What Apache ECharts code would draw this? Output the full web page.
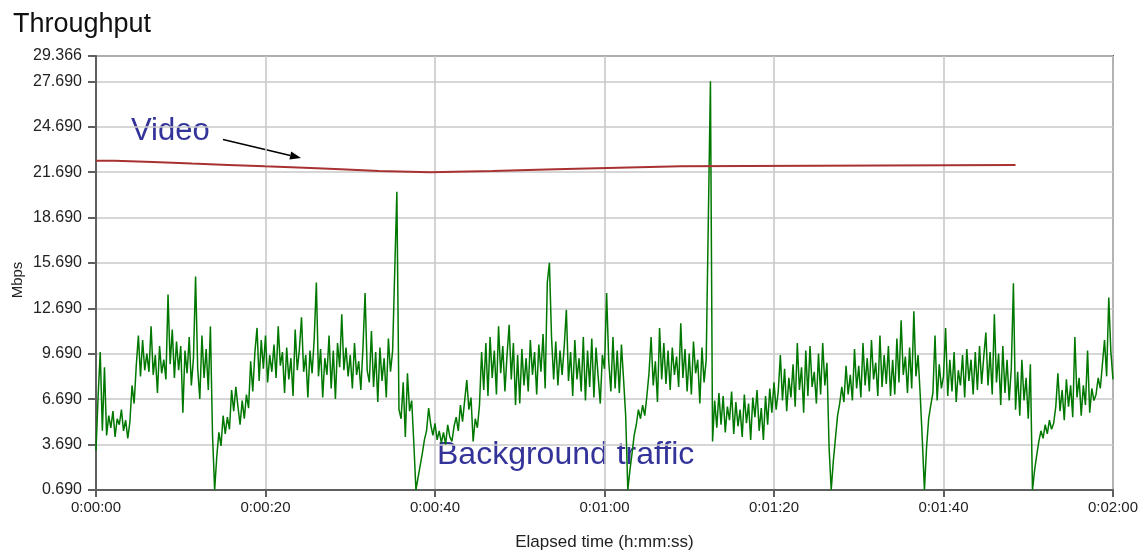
<!DOCTYPE html>
<html>
<head>
<meta charset="utf-8">
<script src="https://cdn.jsdelivr.net/npm/echarts@6/dist/echarts.min.js"></script>
<style>
html,body{margin:0;padding:0;background:#fff;}
#chart{width:1146px;height:552px;}
</style>
</head>
<body>
<div id="chart"></div>
<script>
// ---- data ----
const yTicks = [0.69, 3.69, 6.69, 9.69, 12.69, 15.69, 18.69, 21.69, 24.69, 27.69, 29.366];
const xTickSeconds = [0, 20, 40, 60, 80, 100, 120];

// Video throughput (Mbps): step start times (s) and levels
const videoTimes  = [0, 2.2, 6.7, 11.3, 15.6, 19.9, 24.6, 28.9, 33.4, 39.4, 46.8, 54.2, 61.6, 69, 108.5];
const videoValues = [22.45, 22.37, 22.26, 22.17, 22.08, 21.99, 21.89, 21.77, 21.69, 21.77, 21.89, 21.99, 22.08, 22.17, 22.17];

// Background traffic (Mbps), one sample every 0.25 s from 0:00:00 to 0:02:00
const bgStep = 0.25;
const bgValues = [
  3.3, 6.9, 9.8, 4.6,   8.8, 4.3, 5.6, 4.8,   5.9, 4.2, 5.4, 5.0,   6.0, 4.6, 5.3, 4.1,   // 0-3
  5.2, 7.6, 6.4, 8.9,   10.9, 8.2, 10.6, 8.6, 9.7, 8.5, 11.5, 8.3, 9.6, 7.1, 10.2, 8.4, // 4-7
  9.3, 8.0, 13.6, 9.0,  11.3, 8.1, 10.5, 8.6, 10.2, 5.8, 9.9, 8.4, 10.8, 7.6, 9.4, 14.8, // 8-11
  8.7, 6.7, 10.9, 8.1,  10.0, 7.3, 11.5, 4.3, 0.69, 2.9, 4.5, 3.6, 5.6, 4.4, 5.5, 4.7,   // 12-15
  7.3, 5.9, 7.5, 6.2,   5.0, 6.6, 5.4, 7.0,   6.1, 9.2, 7.2, 9.8,   11.4, 7.9, 10.6, 8.7, // 16-19
  10.9, 7.8, 9.6, 8.5,  10.3, 8.1, 11.5, 8.9, 9.8, 7.1, 10.1, 8.0, 9.4, 6.9, 11.3, 8.6,  // 20-23
  10.0, 12.1, 8.5, 9.6, 6.8, 9.9, 8.4, 10.7,  14.4, 8.2, 10.0, 6.8, 9.4, 8.3, 10.9, 7.4,  // 24-27
  9.9, 6.7, 10.4, 8.8,  12.3, 8.6, 10.1, 8.2, 9.6, 7.4, 10.4, 8.3,  9.2, 7.3, 10.1, 13.7, // 28-31
  8.6, 7.8, 11.2, 7.5,  9.8, 6.5, 10.1, 7.9,  9.4, 6.8, 10.7, 8.5,  9.9, 15.2, 20.4, 6.0, // 32-35
  5.4, 7.8, 4.2, 8.4,   5.9, 6.6, 3.8, 0.69,  1.5, 2.3, 3.1, 4.0,   4.6, 6.1, 5.0, 4.3,   // 36-39
  5.1, 4.0, 4.6, 3.8,   4.5, 3.7, 5.0, 4.2,   3.9, 4.9, 5.5, 4.6,   6.3, 5.2, 6.6, 7.95,  // 40-43
  6.0, 6.8, 3.9, 5.4,   4.8, 6.3, 9.8, 7.3,   10.4, 6.9, 10.8, 8.1, 9.9, 7.0, 11.5, 8.4,  // 44-47
  10.2, 7.2, 9.6, 11.6, 8.0, 10.4, 6.3, 9.6,  6.4, 10.0, 7.6, 9.4,  7.2, 10.6, 8.3, 9.8,  // 48-51
  7.0, 10.3, 8.5, 11.0, 7.4, 14.4, 15.7, 10.8, 8.0, 10.5, 7.6, 9.9, 8.3, 10.2, 12.6, 7.9, // 52-55
  9.8, 6.9, 10.6, 8.0,  9.4, 7.2, 10.8, 6.6,  9.9, 7.5, 10.7, 6.8,  10.1, 8.2, 6.4, 9.6,  // 56-59
  8.7, 13.7, 9.2, 7.2,  10.8, 7.4, 9.9, 7.1,  10.3, 8.0, 5.6, 0.69, 2.0, 3.1, 4.3, 5.0,   // 60-63
  6.0, 5.4, 6.3, 5.6,   6.9, 8.4, 10.8, 7.6,  9.2, 6.5, 11.4, 8.0,  10.4, 7.7, 9.9, 7.3,  // 64-67
  10.1, 8.3, 9.5, 7.5,  11.7, 8.1, 10.0, 7.2, 9.7, 7.0, 10.5, 8.4,  9.3, 6.4, 10.1, 7.8,  // 68-71
  9.3, 18.5, 27.69, 3.9, 6.6, 4.8, 7.1, 5.0,  6.9, 4.5, 6.2, 5.3,   7.2, 4.4, 6.5, 4.9,   // 72-75
  6.0, 4.2, 7.0, 5.1,   6.4, 4.0, 6.8, 5.5,   7.3, 4.6, 6.1, 4.0,   6.9, 5.0, 7.4, 5.8,   // 76-79
  7.8, 6.0, 7.2, 9.6,   6.6, 8.7, 5.9, 8.1,   6.8, 9.0, 6.2, 10.4,  7.3, 8.8, 5.8, 9.9,   // 80-83
  6.9, 10.2, 7.5, 8.5,  6.4, 9.7, 7.0, 10.4,  7.6, 9.1, 3.5, 0.69,  2.6, 4.1, 5.6, 6.4,   // 84-87
  7.5, 6.5, 8.9, 7.0,   8.3, 6.6, 10.0, 7.4,  8.9, 6.8, 10.4, 7.6,  9.4, 7.2, 10.6, 8.0,  // 88-91
  9.1, 6.9, 10.9, 7.5,  9.6, 7.7, 10.2, 6.9,  9.3, 7.0, 10.7, 7.8,  11.9, 8.3, 9.5, 7.1,  // 92-95
  10.1, 7.4, 12.5, 8.2, 9.6, 7.0, 4.0, 0.69,  3.5, 5.4, 6.3, 7.1,   10.9, 6.6, 9.0, 7.4,  // 96-99
  8.2, 11.4, 6.9, 9.3,  7.2, 9.8, 6.5, 8.6,   7.6, 9.6, 6.8, 10.0,  7.9, 9.3, 7.0, 9.8,   // 100-103
  7.3, 10.2, 7.7, 9.5,  11.1, 7.6, 9.8, 7.0,  12.3, 7.8, 9.7, 6.3,  10.2, 7.1, 9.3, 6.6,  // 104-107
  8.7, 14.35, 6.0, 8.5, 5.6, 9.3, 6.6, 8.1,   5.4, 9.0, 0.69, 2.0,  3.0, 3.9, 4.6, 4.1,   // 108-111
  5.0, 4.4, 5.3, 4.7,   5.1, 6.2, 8.4, 5.9,   7.3, 5.3, 8.0, 6.2,   7.6, 5.5, 10.8, 6.8,  // 112-115
  8.1, 5.6, 7.6, 6.3,   9.9, 5.8, 7.4, 6.6,   7.0, 8.1, 7.4, 9.0,   10.6, 8.2, 13.4, 9.8, // 116-119
  8.0                                                                                       // 120
];

// ---- build ----
const FONT = "'Liberation Sans', Arial, sans-serif";
const bgData = bgValues.map((v, i) => [i * bgStep, v]);
const videoData = videoTimes.map((t, i) => [t, videoValues[i]]);

function fmtTime(s) {
  s = Math.round(s);
  const h = Math.floor(s / 3600), m = Math.floor((s % 3600) / 60), sec = s % 60;
  return h + ':' + String(m).padStart(2, '0') + ':' + String(sec).padStart(2, '0');
}

const chart = echarts.init(document.getElementById('chart'), null, {renderer: 'canvas'});
chart.setOption({
  animation: false,
  backgroundColor: '#ffffff',
  textStyle: {fontFamily: FONT},
  title: {
    text: 'Throughput', left: 8, top: 6,
    textStyle: {fontFamily: FONT, fontSize: 27, fontWeight: 'normal', color: '#111'}
  },
  grid: {
    left: 96, right: 33, top: 56, bottom: 62,
    outerBoundsMode: 'none', containLabel: false,
    show: true, borderColor: '#5f5f5f', borderWidth: 2, backgroundColor: 'transparent'
  },
  xAxis: {
    type: 'value', min: 0, max: 120, interval: 20,
    name: 'Elapsed time (h:mm:ss)', nameLocation: 'middle', nameGap: 44,
    nameTextStyle: {fontFamily: FONT, fontSize: 17, color: '#222'},
    axisLine: {show: true, lineStyle: {color: '#5f5f5f', width: 2}},
    axisTick: {show: true, inside: false, length: 7, lineStyle: {color: '#5f5f5f', width: 2}},
    axisLabel: {fontFamily: FONT, fontSize: 15, color: '#222', margin: 10,
      formatter: v => fmtTime(v)},
    splitLine: {show: true, lineStyle: {color: '#c8c8c8', width: 1.6}}
  },
  yAxis: {
    type: 'value', min: yTicks[0], max: yTicks[yTicks.length - 1],
    axisLine: {show: true, lineStyle: {color: '#5f5f5f', width: 2}},
    axisTick: {show: true, inside: false, length: 8, customValues: yTicks,
      lineStyle: {color: '#5f5f5f', width: 2}},
    axisLabel: {fontFamily: FONT, fontSize: 16, color: '#222', margin: 14,
      customValues: yTicks, formatter: v => v.toFixed(3)},
    splitLine: {show: true, lineStyle: {color: '#c8c8c8', width: 1.6}}
  },
  series: [
    {
      name: 'Background traffic', type: 'line', data: bgData,
      symbol: 'none', lineStyle: {color: '#007800', width: 1.5}, z: 3
    },
    {
      name: 'Video', type: 'line', data: videoData, step: 'end',
      symbol: 'none', lineStyle: {color: '#a83232', width: 2}, z: 4
    }
  ],
  graphic: [
    {type: 'text', x: 18, y: 280, rotation: Math.PI / 2,
      style: {text: 'Mbps', font: '15px ' + FONT, fill: '#222', align: 'center', verticalAlign: 'middle'}},
    {type: 'text', left: 131, top: 116,
      style: {text: 'Video', font: '31px ' + FONT, fill: '#333399'}},
    {type: 'text', left: 437, top: 439,
      style: {text: 'Background traffic', font: '32px ' + FONT, fill: '#333399'}},
    {type: 'line', shape: {x1: 223, y1: 139.5, x2: 290.3, y2: 155.5},
      style: {stroke: '#000', lineWidth: 1.5}},
    {type: 'polygon', shape: {points: [[301, 158], [289.4, 159.4], [291.2, 151.6]]},
      style: {fill: '#000'}}
  ]
});
</script>
</body>
</html>
